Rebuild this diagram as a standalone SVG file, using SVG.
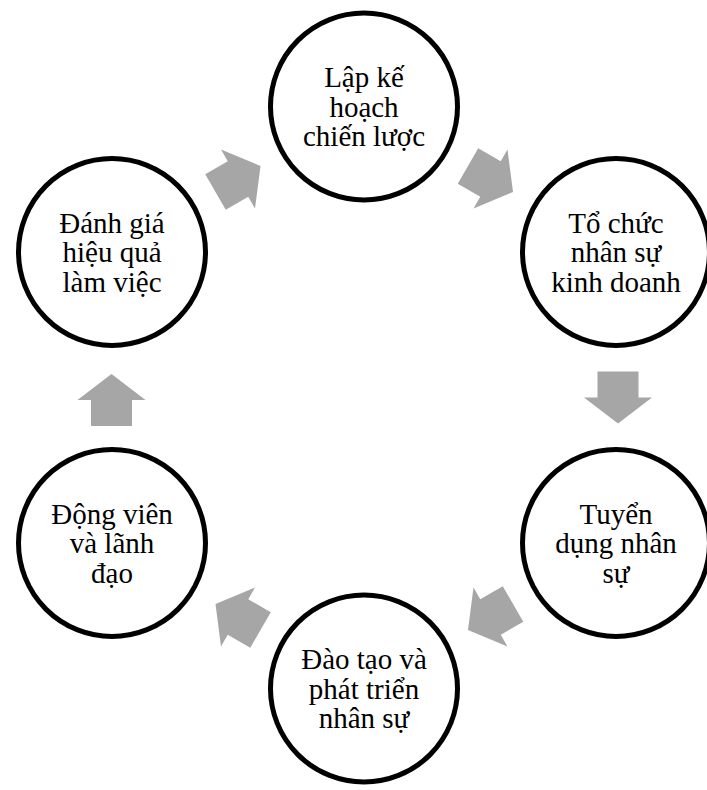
<svg xmlns="http://www.w3.org/2000/svg" width="707" height="790" viewBox="0 0 707 790">
<defs>
<style>
.node{fill:#ffffff;stroke:#000000;stroke-width:5}
.lbl{font-family:"Liberation Serif","Times New Roman",serif;font-size:29px;fill:#000000;text-anchor:middle}
.arr{fill:#a6a6a6;stroke:none}
</style>
<polygon id="blk" points="-26,-20.5 0,-20.5 0,-34 26,0 0,34 0,20.5 -26,20.5"/>
</defs>
<rect width="707" height="790" fill="#ffffff"/>
<g id="connectors">
<use href="#blk" class="arr" transform="translate(490.5,179) rotate(30)"/>
<use href="#blk" class="arr" transform="translate(618,397.5) rotate(90)"/>
<use href="#blk" class="arr" transform="translate(490.5,617) rotate(150)"/>
<use href="#blk" class="arr" transform="translate(238,617) rotate(210)"/>
<use href="#blk" class="arr" transform="translate(111.5,400) rotate(-90)"/>
<use href="#blk" class="arr" transform="translate(238,179) rotate(-30)"/>
</g>
<g id="n1">
<circle class="node" cx="364" cy="106.5" r="93.5"/>
<text class="lbl"><tspan x="364" y="87">Lập kế</tspan><tspan x="364" y="116.5">hoạch</tspan><tspan x="364" y="146">chiến lược</tspan></text>
</g>
<g id="n2">
<circle class="node" cx="616" cy="252" r="93.5"/>
<text class="lbl"><tspan x="616" y="232.5">Tổ chức</tspan><tspan x="616" y="262">nhân sự</tspan><tspan x="616" y="291.5">kinh doanh</tspan></text>
</g>
<g id="n3">
<circle class="node" cx="616" cy="543" r="93.5"/>
<text class="lbl"><tspan x="616" y="523.5">Tuyển</tspan><tspan x="616" y="553">dụng nhân</tspan><tspan x="616" y="582.5">sự</tspan></text>
</g>
<g id="n4">
<circle class="node" cx="364" cy="688.5" r="93.5"/>
<text class="lbl"><tspan x="364" y="669">Đào tạo và</tspan><tspan x="364" y="698.5">phát triển</tspan><tspan x="364" y="728">nhân sự</tspan></text>
</g>
<g id="n5">
<circle class="node" cx="112" cy="543" r="93.5"/>
<text class="lbl"><tspan x="112" y="523.5">Động viên</tspan><tspan x="112" y="553">và lãnh</tspan><tspan x="112" y="582.5">đạo</tspan></text>
</g>
<g id="n6">
<circle class="node" cx="112" cy="252" r="93.5"/>
<text class="lbl"><tspan x="112" y="232.5">Đánh giá</tspan><tspan x="112" y="262">hiệu quả</tspan><tspan x="112" y="291.5">làm việc</tspan></text>
</g>
</svg>
